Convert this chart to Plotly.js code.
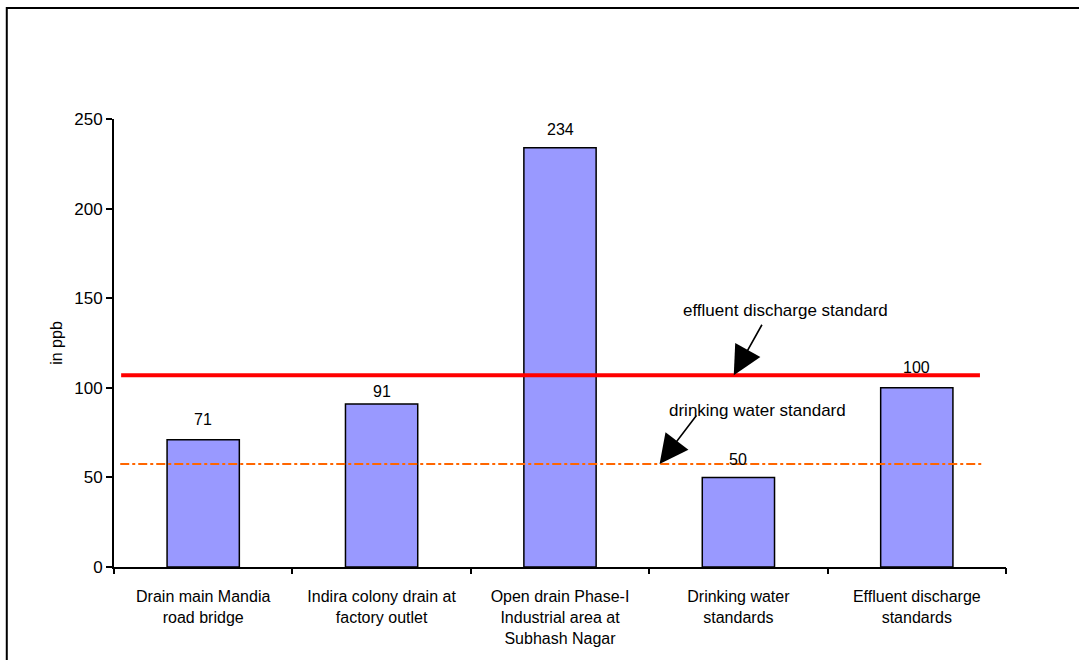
<!DOCTYPE html>
<html>
<head>
<meta charset="utf-8">
<script src="https://cdn.plot.ly/plotly-3.0.1.min.js"></script>
<style>
html,body{margin:0;padding:0;background:#fff;}
#chart{width:1079px;height:660px;}
</style>
</head>
<body>
<div id="chart"></div>
<script>
// ---- data ----
var categories = [
  "Drain main Mandia<br>road bridge",
  "Indira colony drain at<br>factory outlet",
  "Open drain Phase-I<br>Industrial area at<br>Subhash Nagar",
  "Drinking water<br>standards",
  "Effluent discharge<br>standards"
];
var values = [71, 91, 234, 50, 100];
var yTickVals = [0, 50, 100, 150, 200, 250];
var yTitle = "in ppb";
var effluentLevel = 107;      // red reference line (as drawn)
var drinkingLevel = 57.5;     // orange dash-dot reference line (as drawn)
var effluentLabel = "effluent discharge standard";
var drinkingLabel = "drinking water standard";

// ---- styling ----
var FONT = "Liberation Sans, Arial, sans-serif";
var labelShift = [20, 12, 18, 18, 20];
var idx = categories.map(function(_, i){ return i; });

var bar = {
  type: "bar",
  x: idx,
  y: values,
  marker: {color: "#9999FF", line: {color: "#000000", width: 1.5}},
  hoverinfo: "none"
};

var annotations = [];
values.forEach(function(v, i){
  annotations.push({
    x: i, y: v, xref: "x", yref: "y",
    text: String(v), showarrow: false,
    yanchor: "middle", yshift: labelShift[i],
    font: {family: FONT, size: 16, color: "#000"}
  });
});
// arrows
annotations.push({
  x: 2.974, y: effluentLevel, xref: "x", yref: "y",
  text: "", showarrow: true, arrowhead: 2, arrowsize: 3.6, arrowwidth: 1.6,
  arrowcolor: "#000", ax: 29, ay: -52, standoff: 0
});
annotations.push({
  x: 2.558, y: drinkingLevel, xref: "x", yref: "y",
  text: "", showarrow: true, arrowhead: 2, arrowsize: 3.6, arrowwidth: 1.6,
  arrowcolor: "#000", ax: 38, ay: -50, standoff: 0
});
annotations.push({
  x: 3.265, y: 143.4, xref: "x", yref: "y", text: effluentLabel, showarrow: false,
  font: {family: FONT, size: 17, color: "#000"}
});
annotations.push({
  x: 3.108, y: 87.1, xref: "x", yref: "y", text: drinkingLabel, showarrow: false,
  font: {family: FONT, size: 17, color: "#000"}
});

var shapes = [
  {type: "line", xref: "x", yref: "y", x0: -0.46, x1: 4.354, y0: effluentLevel, y1: effluentLevel,
   line: {color: "#FF0000", width: 4}},
  {type: "line", xref: "x", yref: "y", x0: -0.465, x1: 4.377, y0: drinkingLevel, y1: drinkingLevel,
   line: {color: "#FF6600", width: 2, dash: "dashdot"}},
  {type: "rect", xref: "paper", yref: "paper", x0: -0.1202, x1: 1.3, y0: 1.2475, y1: -0.4,
   line: {color: "#000", width: 2}, fillcolor: "rgba(0,0,0,0)", layer: "above"}
];

var layout = {
  width: 1079, height: 660,
  margin: {l: 114, r: 73, t: 119, b: 93, pad: 0},
  paper_bgcolor: "#ffffff", plot_bgcolor: "#ffffff",
  showlegend: false,
  bargap: 0.595,
  font: {family: FONT, size: 16, color: "#000"},
  xaxis: {
    type: "linear",
    range: [-0.5, 4.5],
    tickmode: "array", tickvals: idx, ticktext: categories,
    showline: true, linecolor: "#000", linewidth: 2,
    showgrid: false, zeroline: false,
    ticks: "", ticklen: 0,
    tickfont: {family: FONT, size: 16, color: "#000"},
    ticklabelstandoff: 14
  },
  xaxis2: {
    overlaying: "x", anchor: "y", side: "bottom", range: [-0.5, 4.5],
    tickmode: "array", tickvals: [-0.5, 0.5, 1.5, 2.5, 3.5, 4.5], ticktext: ["", "", "", "", "", ""],
    ticks: "outside", ticklen: 6, tickwidth: 2, tickcolor: "#000",
    showline: false, showgrid: false, zeroline: false
  },
  yaxis: {
    range: [0, 250],
    tickmode: "array", tickvals: yTickVals,
    showline: true, linecolor: "#000", linewidth: 2,
    showgrid: false, zeroline: false,
    ticks: "outside", ticklen: 6, tickwidth: 2, tickcolor: "#000",
    tickfont: {family: FONT, size: 17, color: "#000"},
    title: {text: yTitle, font: {family: FONT, size: 16, color: "#000"}, standoff: 8}
  },
  annotations: annotations,
  shapes: shapes
};

var dummy = {type: "scatter", x: [-0.5, 4.5], y: [0, 0], xaxis: "x2", mode: "none", hoverinfo: "none"};

Plotly.newPlot("chart", [bar, dummy], layout, {staticPlot: true});
</script>
</body>
</html>
